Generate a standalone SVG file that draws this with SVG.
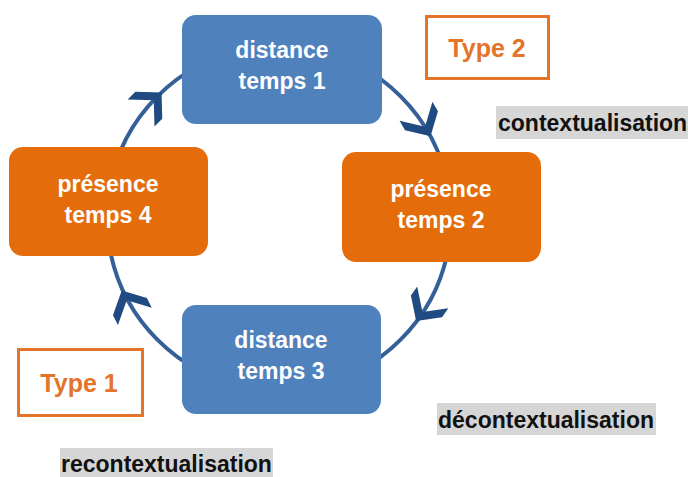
<svg xmlns="http://www.w3.org/2000/svg" width="688" height="477" viewBox="0 0 688 477">
<defs>
<style>
.blue{fill:#4f81bd}
.orange{fill:#e46c0a}
.ntext{font-family:"Liberation Sans",Arial,sans-serif;font-weight:bold;font-size:23px;fill:#ffffff;text-anchor:middle}
.type{fill:#ffffff;stroke:#e3742a;stroke-width:3}
.ttext{font-family:"Liberation Sans",Arial,sans-serif;font-weight:bold;font-size:25px;fill:#e3742a;text-anchor:middle}
.lbg{fill:#d6d6d6}
.ltext{font-family:"Liberation Sans",Arial,sans-serif;font-weight:bold;font-size:23px;fill:#111111}
.arc{fill:none;stroke:#355f97;stroke-width:4}
.chev{fill:#1f4a82}
</style>
<path id="chev" d="M5,0 L-13,-19 L-24,-19 L-6,0 L-24,19 L-13,19 Z"/>
</defs>
<rect width="688" height="477" fill="#ffffff"/>
<g id="connectors">
<path class="arc" d="M109.6,188.1 A172,172 0 0 1 249.1,48.6"/>
<path class="arc" d="M308.9,48.6 A172,172 0 0 1 448.4,188.1"/>
<path class="arc" d="M448.4,247.9 A172,172 0 0 1 308.9,387.4"/>
<path class="arc" d="M249.1,387.4 A172,172 0 0 1 109.6,247.9"/>
<use class="chev" href="#chev" transform="translate(158,96) rotate(315)"/>
<use class="chev" href="#chev" transform="translate(428,132) rotate(60)"/>
<use class="chev" href="#chev" transform="translate(419,317) rotate(125)"/>
<use class="chev" href="#chev" transform="translate(124,295) rotate(243)"/>
</g>
<g id="node1">
<rect class="blue" x="182" y="15" width="200" height="109" rx="14"/>
<text class="ntext" x="282" y="58">distance</text>
<text class="ntext" x="282" y="89">temps 1</text>
</g>
<g id="node2">
<rect class="orange" x="342" y="152" width="199" height="110" rx="14"/>
<text class="ntext" x="441" y="197">présence</text>
<text class="ntext" x="441" y="228">temps 2</text>
</g>
<g id="node3">
<rect class="blue" x="182" y="305" width="199" height="109" rx="14"/>
<text class="ntext" x="281" y="348">distance</text>
<text class="ntext" x="281" y="379">temps 3</text>
</g>
<g id="node4">
<rect class="orange" x="9" y="147" width="199" height="109" rx="14"/>
<text class="ntext" x="108" y="192">présence</text>
<text class="ntext" x="108" y="223">temps 4</text>
</g>
<g id="type2">
<rect class="type" x="426.5" y="16.5" width="122" height="62"/>
<text class="ttext" x="487" y="57">Type 2</text>
</g>
<g id="type1">
<rect class="type" x="18.5" y="349.5" width="124" height="66"/>
<text class="ttext" x="79" y="392">Type 1</text>
</g>
<g id="label-contextualisation">
<rect class="lbg" x="496" y="106" width="192" height="33"/>
<text class="ltext" x="498" y="131">contextualisation</text>
</g>
<g id="label-decontextualisation">
<rect class="lbg" x="437" y="403" width="219" height="32"/>
<text class="ltext" x="438" y="428">décontextualisation</text>
</g>
<g id="label-recontextualisation">
<rect class="lbg" x="60" y="448" width="213" height="29"/>
<text class="ltext" x="61" y="472">recontextualisation</text>
</g>
</svg>
